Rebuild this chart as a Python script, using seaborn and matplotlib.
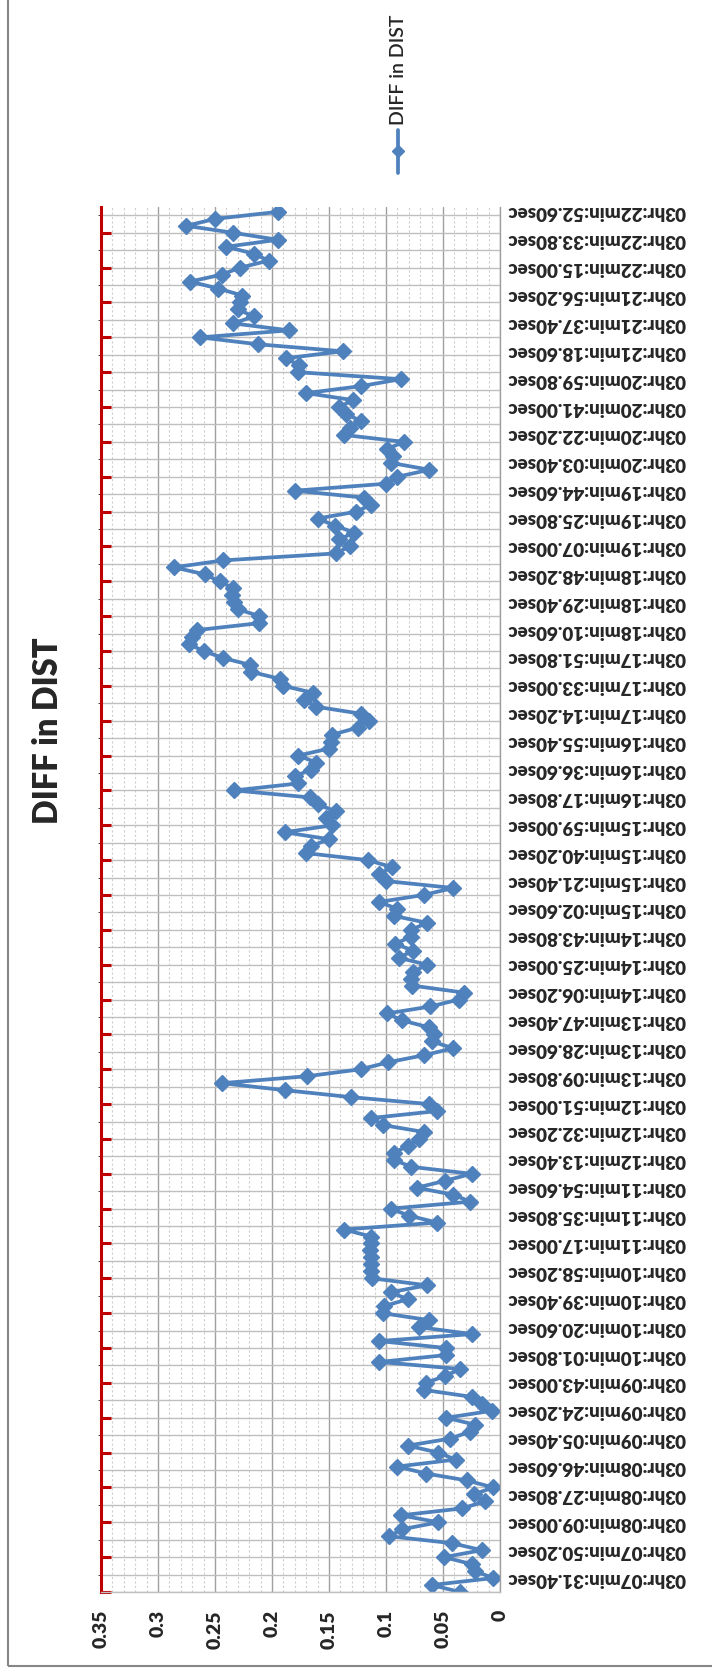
import numpy as np
import pandas as pd
import seaborn as sns
import matplotlib.pyplot as plt
from matplotlib.ticker import MultipleLocator
from matplotlib.lines import Line2D
from matplotlib.patches import Rectangle


## Data: DIFF in DIST, one value per sample (bottom of the chart = first sample)
diff_in_dist = [
    0.035, 0.060, 0.006, 0.022, 0.025, 0.049, 0.016, 0.042, 0.097, 0.086,
    0.054, 0.087, 0.033, 0.013, 0.023, 0.006, 0.029, 0.065, 0.090, 0.039,
    0.054, 0.081, 0.044, 0.026, 0.022, 0.047, 0.007, 0.016, 0.025, 0.067,
    0.065, 0.048, 0.035, 0.106, 0.047, 0.047, 0.106, 0.025, 0.071, 0.062,
    0.103, 0.102, 0.081, 0.096, 0.064, 0.112, 0.113, 0.113, 0.113, 0.114,
    0.113, 0.113, 0.137, 0.055, 0.080, 0.096, 0.026, 0.041, 0.073, 0.048,
    0.025, 0.078, 0.093, 0.093, 0.081, 0.071, 0.067, 0.103, 0.113, 0.055,
    0.062, 0.131, 0.189, 0.244, 0.169, 0.122, 0.098, 0.067, 0.041, 0.060,
    0.058, 0.062, 0.086, 0.099, 0.061, 0.036, 0.032, 0.077, 0.078, 0.076,
    0.064, 0.089, 0.076, 0.092, 0.078, 0.078, 0.064, 0.093, 0.090, 0.106,
    0.067, 0.041, 0.100, 0.106, 0.095, 0.116, 0.170, 0.166, 0.150, 0.189,
    0.147, 0.153, 0.144, 0.160, 0.167, 0.233, 0.177, 0.180, 0.166, 0.161,
    0.177, 0.150, 0.148, 0.147, 0.125, 0.115, 0.122, 0.161, 0.172, 0.164,
    0.190, 0.193, 0.218, 0.219, 0.243, 0.260, 0.273, 0.270, 0.266, 0.211,
    0.211, 0.230, 0.233, 0.235, 0.234, 0.246, 0.259, 0.286, 0.243, 0.144,
    0.132, 0.141, 0.128, 0.145, 0.160, 0.126, 0.113, 0.119, 0.180, 0.100,
    0.090, 0.062, 0.096, 0.094, 0.099, 0.084, 0.137, 0.132, 0.122, 0.135,
    0.141, 0.129, 0.170, 0.122, 0.087, 0.177, 0.176, 0.188, 0.138, 0.212,
    0.263, 0.185, 0.234, 0.216, 0.230, 0.228, 0.226, 0.247, 0.272, 0.244,
    0.228, 0.203, 0.216, 0.240, 0.195, 0.234, 0.275, 0.250, 0.195,
]

time_labels = [
    "03hr:07min:31.40sec", "03hr:07min:50.20sec", "03hr:08min:09.00sec",
    "03hr:08min:27.80sec", "03hr:08min:46.60sec", "03hr:09min:05.40sec",
    "03hr:09min:24.20sec", "03hr:09min:43.00sec", "03hr:10min:01.80sec",
    "03hr:10min:20.60sec", "03hr:10min:39.40sec", "03hr:10min:58.20sec",
    "03hr:11min:17.00sec", "03hr:11min:35.80sec", "03hr:11min:54.60sec",
    "03hr:12min:13.40sec", "03hr:12min:32.20sec", "03hr:12min:51.00sec",
    "03hr:13min:09.80sec", "03hr:13min:28.60sec", "03hr:13min:47.40sec",
    "03hr:14min:06.20sec", "03hr:14min:25.00sec", "03hr:14min:43.80sec",
    "03hr:15min:02.60sec", "03hr:15min:21.40sec", "03hr:15min:40.20sec",
    "03hr:15min:59.00sec", "03hr:16min:17.80sec", "03hr:16min:36.60sec",
    "03hr:16min:55.40sec", "03hr:17min:14.20sec", "03hr:17min:33.00sec",
    "03hr:17min:51.80sec", "03hr:18min:10.60sec", "03hr:18min:29.40sec",
    "03hr:18min:48.20sec", "03hr:19min:07.00sec", "03hr:19min:25.80sec",
    "03hr:19min:44.60sec", "03hr:20min:03.40sec", "03hr:20min:22.20sec",
    "03hr:20min:41.00sec", "03hr:20min:59.80sec", "03hr:21min:18.60sec",
    "03hr:21min:37.40sec", "03hr:21min:56.20sec", "03hr:22min:15.00sec",
    "03hr:22min:33.80sec", "03hr:22min:52.60sec",
]

value_ticks = [0.35, 0.3, 0.25, 0.2, 0.15, 0.1, 0.05, 0]
value_tick_labels = ["0.35", "0.3", "0.25", "0.2", "0.15", "0.1", "0.05", "0"]

BLUE = "#4F81BD"
RED = "#C00000"

sns.set_style("white")
plt.rcParams["font.family"] = ["Lato", "DejaVu Sans"]

W, H = 712, 1672
fig = plt.figure(figsize=(W / 100, H / 100), dpi=100)

# plot area (pixels): x 101..500, y 207..1592
ax = fig.add_axes([101 / W, 1 - 1592 / H, 399 / W, 1385 / H])
ax.set_axisbelow(True)

df = pd.DataFrame({"sample": np.arange(len(diff_in_dist)), "diff": diff_in_dist})
sns.lineplot(data=df, x="diff", y="sample", orient="y", ax=ax,
             color=BLUE, linewidth=2.7, marker="D", markersize=8,
             markeredgecolor=BLUE, markeredgewidth=1, legend=False)

n = len(diff_in_dist)
ax.set_xlim(0.35, 0)
ax.set_ylim(0, n - 0.3)
ax.set_xlabel("")
ax.set_ylabel("")

# value axis (drawn at the bottom, rotated labels)
ax.set_xticks(value_ticks)
ax.set_xticklabels(value_tick_labels, rotation=90, fontsize=14,
                   fontweight="heavy")
ax.xaxis.set_minor_locator(MultipleLocator(0.01))
ax.tick_params(axis="x", which="both", length=0, pad=13)

# category axis: red line with ticks every 5 samples
ax.yaxis.set_major_locator(MultipleLocator(5))
ax.yaxis.set_minor_locator(MultipleLocator(2.5))
ax.tick_params(axis="y", which="major", left=True, right=False,
               labelleft=False, labelright=False, direction="in",
               length=7, width=2.2, color=RED)
ax.tick_params(axis="y", which="minor", left=False, right=False)

ax.grid(axis="y", which="both", color="#BFBFBF", linewidth=1)
ax.grid(axis="x", which="major", color="#A0A0A0", linewidth=1)
ax.grid(axis="x", which="minor", color="#CFCFCF", linewidth=0.8,
        linestyle=(0, (2, 2)))

ax.spines["left"].set_color(RED)
ax.spines["left"].set_linewidth(2.2)
ax.spines["top"].set_visible(False)
ax.spines["right"].set_color("#A0A0A0")
ax.spines["right"].set_linewidth(1)
ax.spines["bottom"].set_color("#BFBFBF")
ax.spines["bottom"].set_linewidth(1)

# time labels every 4th sample, upside down on the right
ax2 = ax.twinx()
ax2.set_ylim(ax.get_ylim())
label_pos = np.arange(len(time_labels)) * 4 + 2
ax2.set_yticks(label_pos)
ax2.set_yticklabels(time_labels, fontsize=13.5, fontweight="heavy")
ax2.tick_params(axis="y", length=0, pad=5, labelrotation=180)
for lab in ax2.get_yticklabels():
    lab.set_va("center")
ax2.grid(False)
for s in ax2.spines.values():
    s.set_visible(False)

# title
fig.text(48 / W, 1 - 731 / H, "DIFF in DIST", rotation=90, fontsize=23.5,
         fontweight="heavy", ha="center", va="center")

# legend (rotated like the rest of the chart)
lx = 398 / W
fig.add_artist(Line2D([lx, lx], [1 - 173 / H, 1 - 130 / H],
                      transform=fig.transFigure, color=BLUE, linewidth=2.7))
fig.add_artist(Line2D([lx], [1 - 151 / H], transform=fig.transFigure,
                      color=BLUE, marker="D", markersize=6.5))
fig.text(lx, 1 - 125 / H, "DIFF in DIST", rotation=90, fontsize=14,
         fontweight="semibold", ha="center", va="bottom")

# chart border
fig.add_artist(Rectangle((8 / W, 6 / H), 1, 1, transform=fig.transFigure,
                         fill=False, edgecolor="#868686", linewidth=1.5))

fig.savefig("out.png", dpi=100)
